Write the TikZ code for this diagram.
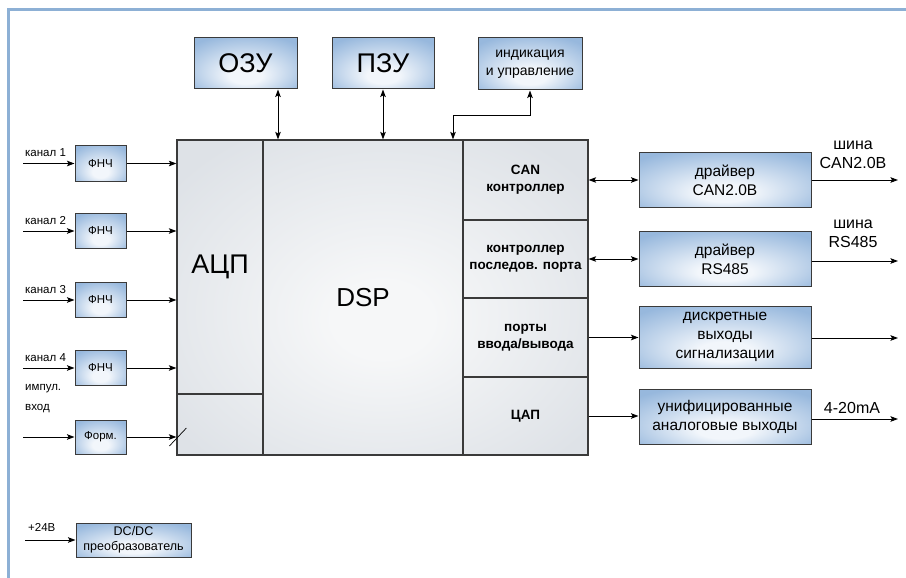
\documentclass[tikz,border=0pt]{standalone}
\usepackage{fontspec}
\setmainfont{Liberation Sans}
\usetikzlibrary{arrows.meta}
\definecolor{framecol}{HTML}{8DB0D5}
\definecolor{boxborder}{HTML}{3A3A3A}
\definecolor{bluein}{HTML}{F2F6FB}
\definecolor{blueout}{HTML}{97B8DD}
\definecolor{greyin}{HTML}{F6F7F8}
\definecolor{greyout}{HTML}{DEE2E7}
\pgfdeclareradialshading{boxshade}{\pgfpoint{0bp}{-14bp}}{color(0bp)=(bluein); color(8bp)=(bluein); color(34bp)=(blueout); color(50bp)=(blueout)}
\pgfdeclareradialshading{mainshade}{\pgfpoint{0bp}{-4bp}}{color(0bp)=(greyin); color(6bp)=(greyin); color(32bp)=(greyout); color(50bp)=(greyout)}
\newcommand{\fsz}[2]{\fontsize{#1}{#2}\selectfont}
\begin{document}
\begin{tikzpicture}[x=1pt,y=-1pt,
  bbox/.style={draw=boxborder, line width=1pt, shading=boxshade, inner sep=0pt, align=center},
  cell/.style={draw=boxborder, line width=1.2pt, inner sep=0pt, align=center},
  mainbg/.style={shading=mainshade, inner sep=0pt},
  conn/.style={line width=0.9pt, -{Stealth[length=7.5pt,width=5.5pt,inset=1.5pt]}},
  bconn/.style={line width=0.9pt, {Stealth[length=7.5pt,width=5.5pt,inset=1.5pt]}-{Stealth[length=7.5pt,width=5.5pt,inset=1.5pt]}},
  lbl/.style={inner sep=0pt, align=left, font=\fsz{11.5}{20}}
]
\useasboundingbox (0,0) rectangle (906,578);
% frame
\draw[framecol, line width=3pt] (8,578) -- (8,10) -- (906,10);

% main block background
\node[mainbg, minimum width=411pt, minimum height=315pt] (mainbg) at (382.5,297.5) {};
% cells
\node[cell, minimum width=86pt, minimum height=254pt, font=\fsz{27}{30}] (adc) at (220,267) {АЦП};
\node[cell, minimum width=86pt, minimum height=61pt] (adc2) at (220,424.5) {};
\node[cell, minimum width=200pt, minimum height=315pt, font=\fsz{26}{30}] (dsp) at (363,297.5) {DSP};
\node[cell, minimum width=125pt, minimum height=80pt, font=\bfseries\fsz{13.5}{17}] (can) at (525.5,180) {CAN\\контроллер};
\node[cell, minimum width=125pt, minimum height=78pt, font=\bfseries\fsz{13.5}{17}] (ser) at (525.5,259) {контроллер\\последов. порта};
\node[cell, minimum width=125pt, minimum height=79pt, font=\bfseries\fsz{13.5}{17}] (io) at (525.5,337.5) {порты\\ввода/вывода};
\node[cell, minimum width=125pt, minimum height=78pt, font=\bfseries\fsz{13.5}{17}] (dac) at (525.5,416) {ЦАП};

% top boxes
\node[bbox, minimum width=103pt, minimum height=51pt, font=\fsz{27}{30}] (ozu) at (245.5,63.5) {ОЗУ};
\node[bbox, minimum width=102pt, minimum height=51pt, font=\fsz{27}{30}] (pzu) at (383,63.5) {ПЗУ};
\node[bbox, minimum width=104pt, minimum height=52pt, font=\fsz{14}{18}] (ind) at (530,64) {индикация\\и управление};

\draw[bconn] ([xshift=32.5pt]ozu.south) -- ([xshift=32.5pt]ozu.south |- dsp.north);
\draw[bconn] (pzu.south) -- (pzu.south |- dsp.north);
\coordinate (kink) at (453,115);
\draw[bconn] (ind.south) |- (kink) -- (kink |- dsp.north);

% left filters
\node[bbox, minimum width=51pt, minimum height=36pt, font=\fsz{11.5}{14}] (f1) at (100.5,163.5) {ФНЧ};
\node[bbox, minimum width=51pt, minimum height=35pt, font=\fsz{11.5}{14}] (f2) at (100.5,231) {ФНЧ};
\node[bbox, minimum width=51pt, minimum height=35pt, font=\fsz{11.5}{14}] (f3) at (100.5,300) {ФНЧ};
\node[bbox, minimum width=51pt, minimum height=35pt, font=\fsz{11.5}{14}] (f4) at (100.5,368) {ФНЧ};
\node[bbox, minimum width=51pt, minimum height=34pt, font=\fsz{11.5}{14}] (fo) at (100.5,437) {Форм.};

\coordinate (i1) at (23,163.5);
\coordinate (i2) at (23,231);
\coordinate (i3) at (23,300);
\coordinate (i4) at (23,368);
\coordinate (i5) at (23,437);
\draw[conn] (i1) -- (f1.west);
\draw[conn] (i2) -- (f2.west);
\draw[conn] (i3) -- (f3.west);
\draw[conn] (i4) -- (f4.west);
\draw[conn] (i5) -- (fo.west);
\node[lbl, anchor=west] (l1) at (25,153) {канал 1};
\node[lbl, anchor=west] (l2) at (25,221) {канал 2};
\node[lbl, anchor=west] (l3) at (25,290) {канал 3};
\node[lbl, anchor=west] (l4) at (25,358) {канал 4};
\node[lbl, anchor=west] (l5) at (25,398.5) {импул.\\вход};

\draw[conn] (f1.east) -- (f1.east -| adc.west);
\draw[conn] (f2.east) -- (f2.east -| adc.west);
\draw[conn] (f3.east) -- (f3.east -| adc.west);
\draw[conn] (f4.east) -- (f4.east -| adc.west);
\draw[conn] (fo.east) -- (fo.east -| adc2.west);
\draw[line width=0.7pt] (fo.east -| adc2.west) ++(-7,9) -- ++(17,-18);

% right drivers
\node[bbox, minimum width=172pt, minimum height=55pt, font=\fsz{15.5}{19}] (d1) at (725,180) {драйвер\\CAN2.0B};
\node[bbox, minimum width=172pt, minimum height=55pt, font=\fsz{15.5}{19}] (d2) at (725,259) {драйвер\\RS485};
\node[bbox, minimum width=172pt, minimum height=62pt, font=\fsz{15.5}{19}] (d3) at (725,337) {дискретные\\выходы\\сигнализации};
\node[bbox, minimum width=172pt, minimum height=55pt, font=\fsz{15.5}{19}] (d4) at (725,417) {унифицированные\\аналоговые выходы};

\draw[bconn] (can.east) -- (can.east -| d1.west);
\draw[bconn] (ser.east) -- (ser.east -| d2.west);
\draw[conn] (io.east) -- (io.east -| d3.west);
\draw[conn] (dac.east) -- (dac.east -| d4.west);

\coordinate (o1) at (898,180);
\coordinate (o2) at (898,261);
\coordinate (o3) at (898,338);
\coordinate (o4) at (898,419);
\draw[conn] (d1.east |- o1) -- (o1);
\draw[conn] (d2.east |- o2) -- (o2);
\draw[conn] (d3.east |- o3) -- (o3);
\draw[conn] (d4.east |- o4) -- (o4);
\node[inner sep=0pt, align=center, font=\fsz{16}{19}] (t1) at (853,155) {шина\\CAN2.0B};
\node[inner sep=0pt, align=center, font=\fsz{16}{19}] (t2) at (853,234) {шина\\RS485};
\node[inner sep=0pt, align=center, font=\fsz{16}{19}] (t4) at (852,408) {4-20mA};

% DC/DC
\node[bbox, minimum width=115pt, minimum height=34pt, font=\fsz{12.5}{15}] (dc) at (133.5,540) {DC/DC\\преобразователь};
\coordinate (i6) at (25,540);
\draw[conn] (i6) -- (dc.west);
\node[lbl, anchor=west] (l6) at (28,527) {+24В};
\end{tikzpicture}
\end{document}
